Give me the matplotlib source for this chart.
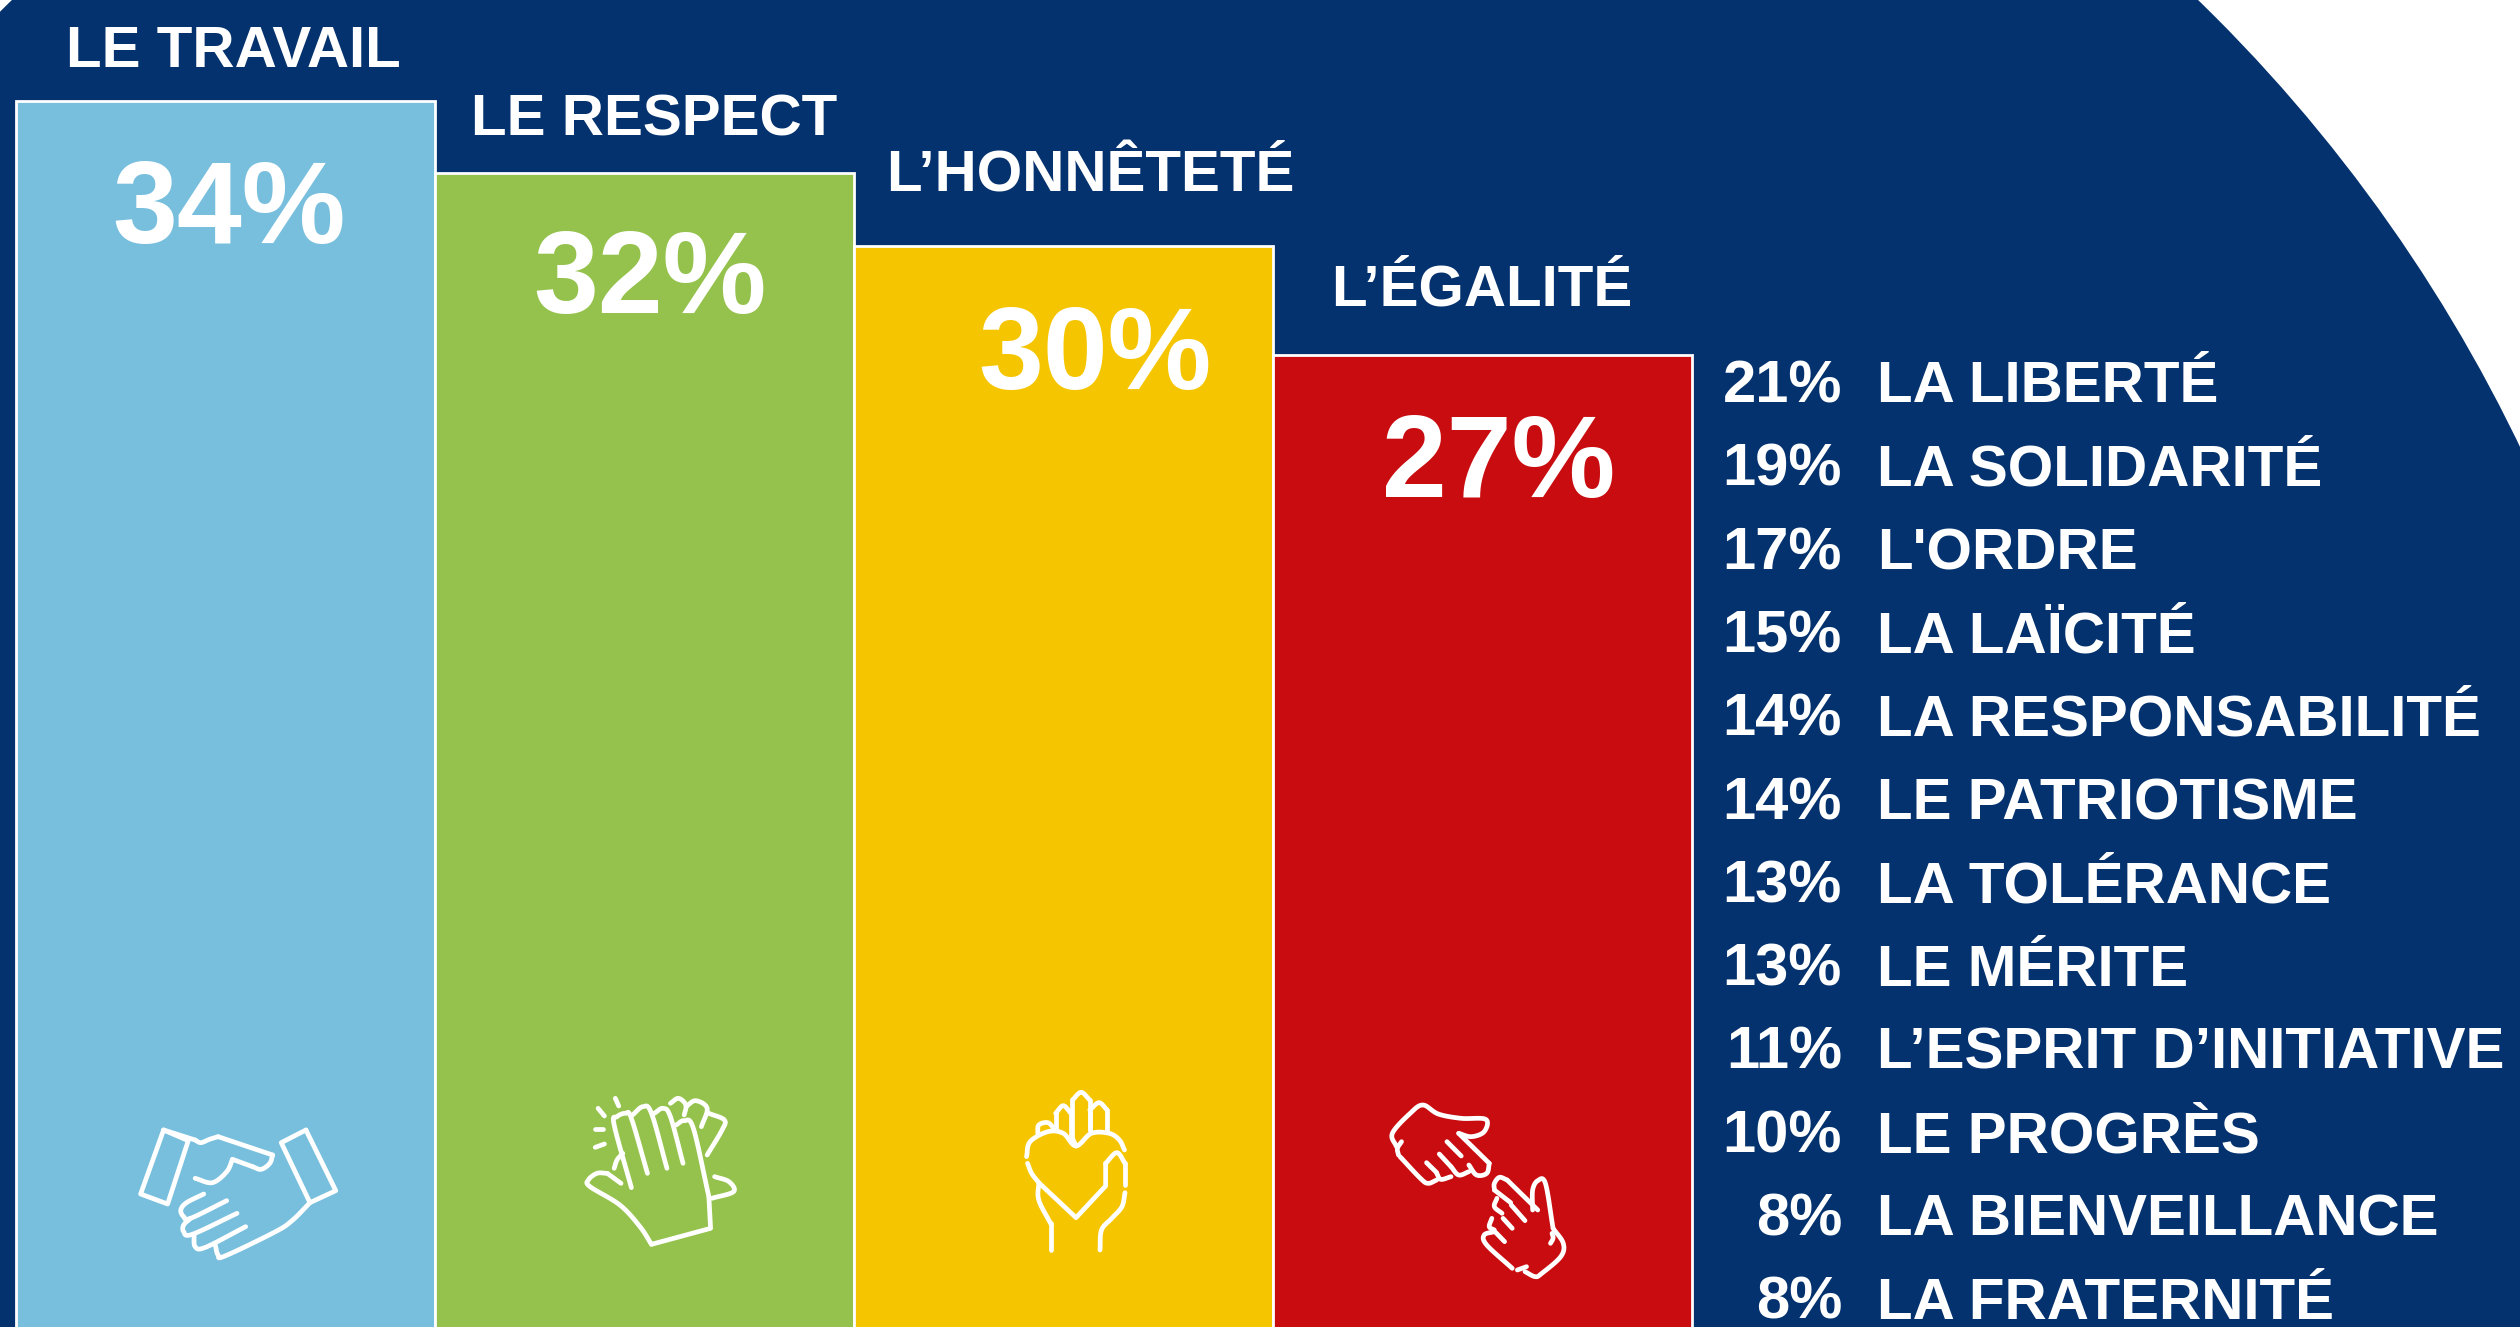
import numpy as np
import matplotlib
matplotlib.use("Agg")
import matplotlib.pyplot as plt
from matplotlib.patches import Circle

top_names = ["LE TRAVAIL", "LE RESPECT", "L’HONNÊTETÉ", "L’ÉGALITÉ"]
top_values = [34, 32, 30, 27]
top_colors = ["#78BFDE", "#95C24D", "#F5C500", "#C80C0F"]
other_names = ["LA LIBERTÉ", "LA SOLIDARITÉ", "L'ORDRE", "LA LAÏCITÉ", "LA RESPONSABILITÉ",
               "LE PATRIOTISME", "LA TOLÉRANCE", "LE MÉRITE", "L’ESPRIT D’INITIATIVE",
               "LE PROGRÈS", "LA BIENVEILLANCE", "LA FRATERNITÉ"]
other_values = [21, 19, 17, 15, 14, 14, 13, 13, 11, 10, 8, 8]

NAVY = "#04326E"
W, H = 2520, 1327
plt.rcParams["font.family"] = ["Liberation Sans", "DejaVu Sans"]
plt.rcParams["font.weight"] = "bold"

fig = plt.figure(figsize=(W / 100, H / 100), dpi=100, facecolor="white")

# pixel-coordinate overlay for background, text and icons
bg = fig.add_axes([0, 0, 1, 1], zorder=0)
bg.set_xlim(0, W); bg.set_ylim(H, 0); bg.axis("off")
bg.add_patch(Circle((1105, 1127), 1570, fc=NAVY, ec="none"))

# bars, on their own value scale
ax = fig.add_axes([0, 0, 1, 1], zorder=1)
ax.patch.set_alpha(0)
ax.axis("off")
PX_X, X0 = 419, 16
PX_Y, Y0 = 36.3, 1335
ax.set_xlim(-X0 / PX_X - 0.5, (W - X0) / PX_X - 0.5)
ax.set_ylim((Y0 - H) / PX_Y, Y0 / PX_Y)
ax.bar(range(len(top_values)), top_values, width=1.0, color=top_colors,
       edgecolor="white", linewidth=2.0)

ov = fig.add_axes([0, 0, 1, 1], zorder=2)
ov.patch.set_alpha(0)
ov.set_xlim(0, W); ov.set_ylim(H, 0); ov.axis("off")

name_pos = [(66, 67), (471, 136), (886, 192), (1331, 306)]
pct_pos = [(112, 243), (533, 313), (978, 389), (1382, 497)]
for n, v, p, q in zip(top_names, top_values, name_pos, pct_pos):
    ov.text(p[0], p[1], n, color="white", fontsize=42, ha="left", va="baseline")
    ov.text(q[0], q[1], f"{v}%", color="white", fontsize=84, ha="left", va="baseline")

for i, (n, v) in enumerate(zip(other_names, other_values)):
    y = 402.5 + 83.3 * i
    ov.text(1842, y, f"{v}%", color="white", fontsize=43, ha="right", va="baseline")
    ov.text(1877, y, n, color="white", fontsize=42, ha="left", va="baseline")


def smooth(pts, closed=False, n=12):
    p = np.array(pts, float)
    if len(p) < 3:
        return p
    if closed:
        q = np.vstack([p[-1], p, p[0], p[1]])
    else:
        q = np.vstack([2 * p[0] - p[1], p, 2 * p[-1] - p[-2]])
    out = []
    for i in range(1, len(q) - 2):
        t = np.linspace(0, 1, n, endpoint=False)[:, None]
        a, b, c, d = q[i - 1], q[i], q[i + 1], q[i + 2]
        out.append(0.5 * (2 * b + (c - a) * t + (2 * a - 5 * b + 4 * c - d) * t ** 2
                          + (3 * b - a - 3 * c + d) * t ** 3))
    out.append(q[-2][None, :])
    return np.vstack(out)


def stroke(pts, fx, x0, curve=True):
    xy = smooth(pts) if curve else np.array(pts, float)
    ov.plot(x0 + xy[:, 0] / fx, 1050 + xy[:, 1] / 3, color="white", lw=3.4,
            solid_capstyle="round", solid_joinstyle="round")


F1, F2 = 1568 / 900, 1568 / 800
# handshake
for s in [[(285, 240), (245, 432), (292, 462), (328, 272), (285, 240)],
          [(533, 240), (490, 278), (540, 458), (585, 422), (533, 240)],
          [(380, 260), (475, 315)], [(285, 240), (340, 270)],
          [(405, 328), (440, 350)]]:
    stroke(s, F1, 0, curve=False)
for s in [[(340, 270), (350, 278), (365, 268), (380, 260)],
          [(475, 315), (470, 340), (455, 358), (440, 350)],
          [(405, 328), (395, 365), (370, 398), (340, 385)],
          [(355, 432), (325, 458), (315, 480), (320, 500), (332, 505), (395, 452)],
          [(332, 505), (320, 525), (320, 545), (335, 553), (413, 490)],
          [(338, 555), (340, 590), (358, 592), (428, 530)],
          [(375, 585), (380, 615), (392, 618), (480, 545), (510, 510), (540, 458)]]:
    stroke(s, F1, 0)
# clapping hands
for s in [[(1072, 145), (1078, 168)], [(1042, 175), (1053, 198)], [(1037, 238), (1050, 238)],
          [(1037, 292), (1053, 282)], [(1235, 440), (1238, 535), (1135, 583)],
          [(1058, 370), (1082, 400)]]:
    stroke(s, F1, 0, curve=False)
for s in [[(1100, 413), (1070, 225), (1075, 200), (1090, 190), (1100, 205), (1128, 370)],
          [(1102, 195), (1120, 170), (1135, 190), (1162, 355)],
          [(1140, 190), (1155, 175), (1168, 200), (1190, 340)],
          [(1178, 225), (1192, 212), (1208, 235), (1235, 440)],
          [(1135, 583), (1115, 530), (1080, 465), (1028, 410), (1025, 390), (1040, 370), (1058, 370)],
          [(1168, 160), (1182, 145), (1195, 165), (1192, 195)],
          [(1195, 170), (1212, 152), (1232, 175), (1222, 230)],
          [(1235, 190), (1262, 210), (1258, 240), (1232, 315)],
          [(1245, 380), (1270, 395), (1278, 425), (1240, 445)],
          [(1070, 355), (1075, 330), (1085, 310)]]:
    stroke(s, F1, 0)
# heart in hand
for s in [[(248, 320), (255, 275), (290, 245), (320, 250), (345, 288), (375, 250), (410, 250), (430, 270), (440, 300)],
          [(250, 340), (258, 370), (272, 398)],
          [(403, 340), (425, 308), (441, 340)],
          [(441, 428), (435, 470), (415, 505), (395, 540), (392, 600)],
          [(272, 398), (272, 450), (295, 520)],
          [(270, 250), (272, 225), (290, 218), (303, 238)],
          [(305, 190), (320, 167), (335, 190)],
          [(338, 150), (355, 127), (372, 150)],
          [(372, 180), (390, 158), (406, 180)]]:
    stroke(s, F2, 900)
for s in [[(272, 398), (345, 503), (403, 408), (403, 340)], [(441, 340), (441, 405)],
          [(295, 520), (295, 600)], [(305, 238), (305, 190)], [(335, 190), (335, 255)],
          [(338, 265), (338, 150)], [(372, 150), (372, 240)], [(372, 180), (372, 240)],
          [(406, 180), (406, 240)], [(345, 288), (338, 265)]]:
    stroke(s, F2, 900, curve=False)
# two hands
for s in [[(973, 290), (965, 250), (1000, 190), (1025, 165), (1055, 192), (1100, 205), (1148, 208), (1145, 245), (1120, 260), (1095, 250)],
          [(1155, 340), (1150, 370), (1130, 375), (1115, 345)],
          [(1115, 365), (1095, 375), (1080, 350)],
          [(1080, 380), (1060, 388), (1052, 370)],
          [(1052, 390), (1035, 400), (1020, 385), (980, 320)],
          [(983, 275), (975, 295), (977, 315)],
          [(1165, 420), (1165, 400), (1175, 382), (1190, 390)],
          [(1170, 445), (1165, 470), (1180, 490)],
          [(1160, 505), (1155, 530), (1165, 540)],
          [(1165, 545), (1145, 555), (1150, 585), (1200, 655)],
          [(1225, 665), (1245, 680), (1258, 670), (1295, 620), (1300, 580), (1280, 535)],
          [(1280, 535), (1265, 400), (1250, 392), (1240, 420), (1240, 480)],
          [(1278, 550), (1280, 565), (1275, 580)]]:
    stroke(s, F2, 900)
for s in [[(1095, 250), (1155, 340)], [(1072, 275), (1100, 318)], [(1057, 312), (1080, 350)],
          [(1032, 338), (1052, 368)], [(1190, 390), (1250, 480)], [(1165, 420), (1197, 458)],
          [(1198, 465), (1225, 512)], [(1182, 505), (1200, 535)], [(1168, 548), (1185, 575)],
          [(1210, 660), (1228, 650)]]:
    stroke(s, F2, 900, curve=False)

fig.savefig("out.png", dpi=100, facecolor="white")
